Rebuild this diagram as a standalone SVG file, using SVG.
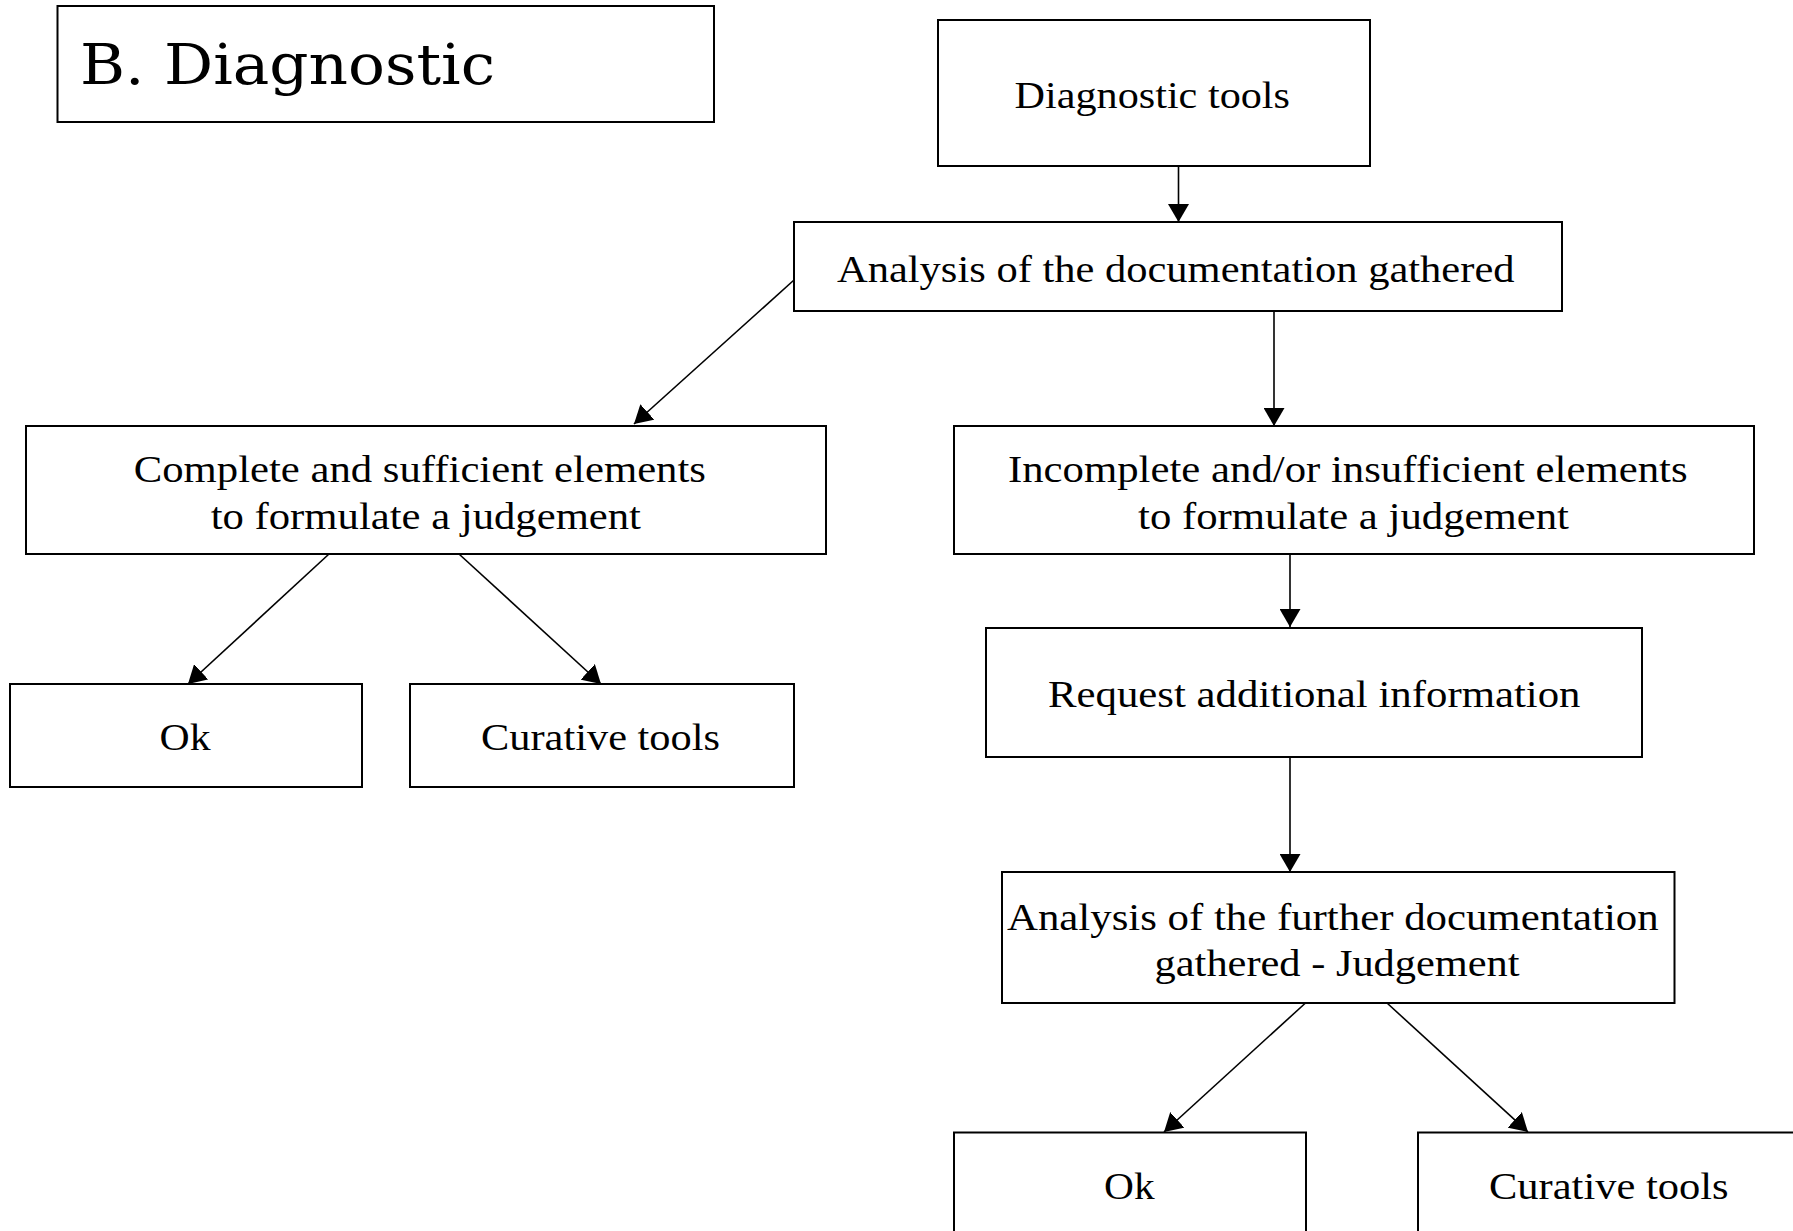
<svg xmlns="http://www.w3.org/2000/svg" width="1793" height="1231" viewBox="0 0 1793 1231">
<style>
.box{fill:#fff;stroke:#000;stroke-width:2}
.t{font-family:"Liberation Serif","Times New Roman",serif;font-size:38px;fill:#000}
.title{font-family:"DejaVu Serif",serif;font-size:56px;fill:#000}
.c{fill:none;stroke:#000;stroke-width:1.6}
</style>
<defs>
<marker id="ah" markerUnits="userSpaceOnUse" markerWidth="18" markerHeight="21" refX="18" refY="10.5" orient="auto" viewBox="0 0 18 21">
<path d="M0,0 L18,10.5 L0,21 z" fill="#000"/>
</marker>
</defs>
<rect width="1793" height="1231" fill="#fff"/>
<g id="title">
<rect class="box" x="57.5" y="6" width="656.5" height="116"/>
<text class="title" x="80" y="84" textLength="415" lengthAdjust="spacingAndGlyphs">B. Diagnostic</text>
</g>
<g id="diagnostic-tools">
<rect class="box" x="938" y="20" width="432" height="146"/>
<text class="t" x="1014.5" y="108" textLength="275.5" lengthAdjust="spacingAndGlyphs">Diagnostic tools</text>
</g>
<g id="analysis">
<rect class="box" x="794" y="222" width="768" height="89"/>
<text class="t" x="837" y="282" textLength="677.5" lengthAdjust="spacingAndGlyphs">Analysis of the documentation gathered</text>
</g>
<g id="complete">
<rect class="box" x="26" y="426" width="800" height="128"/>
<text class="t" x="133.7" y="482" textLength="572.3" lengthAdjust="spacingAndGlyphs">Complete and sufficient elements</text>
<text class="t" x="210.7" y="529" textLength="430.3" lengthAdjust="spacingAndGlyphs">to formulate a judgement</text>
</g>
<g id="incomplete">
<rect class="box" x="954" y="426" width="800" height="128"/>
<text class="t" x="1008" y="482" textLength="679.6" lengthAdjust="spacingAndGlyphs">Incomplete and/or insufficient elements</text>
<text class="t" x="1138" y="529" textLength="431" lengthAdjust="spacingAndGlyphs">to formulate a judgement</text>
</g>
<g id="ok1">
<rect class="box" x="10" y="684" width="352" height="103"/>
<text class="t" x="159.6" y="750" textLength="51" lengthAdjust="spacingAndGlyphs">Ok</text>
</g>
<g id="curative1">
<rect class="box" x="410" y="684" width="384" height="103"/>
<text class="t" x="481" y="750" textLength="239" lengthAdjust="spacingAndGlyphs">Curative tools</text>
</g>
<g id="request">
<rect class="box" x="986" y="628" width="656" height="129"/>
<text class="t" x="1048" y="707" textLength="532.5" lengthAdjust="spacingAndGlyphs">Request additional information</text>
</g>
<g id="further">
<rect class="box" x="1002" y="872" width="672.5" height="131"/>
<text class="t" x="1007" y="930" textLength="651.6" lengthAdjust="spacingAndGlyphs">Analysis of the further documentation</text>
<text class="t" x="1154.6" y="976" textLength="365" lengthAdjust="spacingAndGlyphs">gathered - Judgement</text>
</g>
<g id="ok2">
<rect class="box" x="954" y="1132.5" width="352" height="120"/>
<text class="t" x="1104" y="1199" textLength="50.6" lengthAdjust="spacingAndGlyphs">Ok</text>
</g>
<g id="curative2">
<rect class="box" x="1418" y="1132.5" width="390" height="120"/>
<text class="t" x="1489" y="1199" textLength="239.6" lengthAdjust="spacingAndGlyphs">Curative tools</text>
</g>
<g id="connectors">
<line class="c" x1="1178.5" y1="166" x2="1178.5" y2="222" marker-end="url(#ah)"/>
<line class="c" x1="1274" y1="311" x2="1274" y2="426" marker-end="url(#ah)"/>
<line class="c" x1="794" y1="280" x2="634" y2="424" marker-end="url(#ah)"/>
<line class="c" x1="329" y1="554" x2="188" y2="684" marker-end="url(#ah)"/>
<line class="c" x1="459" y1="554" x2="601" y2="684" marker-end="url(#ah)"/>
<line class="c" x1="1290" y1="554" x2="1290" y2="627" marker-end="url(#ah)"/>
<line class="c" x1="1290" y1="757" x2="1290" y2="872" marker-end="url(#ah)"/>
<line class="c" x1="1305.5" y1="1003" x2="1164" y2="1132" marker-end="url(#ah)"/>
<line class="c" x1="1387" y1="1003" x2="1528" y2="1132" marker-end="url(#ah)"/>
</g>
</svg>
